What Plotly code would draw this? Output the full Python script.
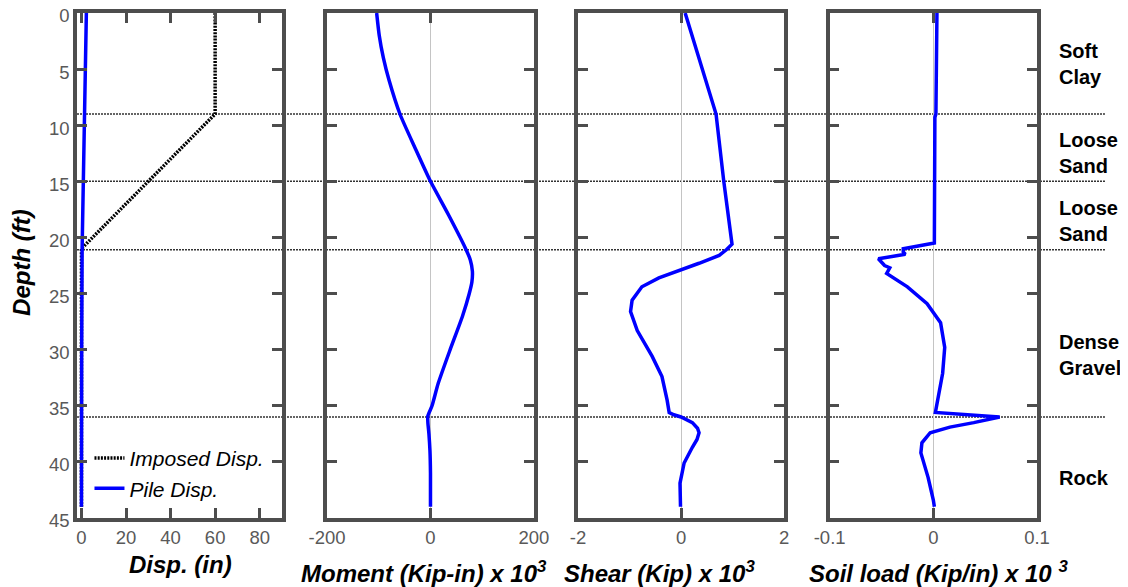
import plotly.graph_objects as go

# ---------------- data ----------------
depth_imposed = [0, 9, 21, 44]
imposed_disp = [60, 60, 0, 0]

depth_pile = [0, 9, 15, 21, 30, 44]
pile_disp = [2.2, 1.5, 0.9, 0.3, 0.1, 0.0]

moment_depth = [0, 2, 4, 6, 9, 12, 15, 18, 21, 22, 23, 24, 25, 27, 30, 33, 35, 35.9, 36.5, 37.5, 39, 41, 44]
moment = [-104, -99, -91, -80, -59, -30, 0, 35, 68, 77, 81, 80, 75, 62, 38, 15, 3, -5, -5, -3, -1, 0, 0]

shear_depth = [0, 9, 15, 20.6, 21.1, 21.6, 22.3, 22.9, 23.6, 24.4, 25.6, 26.6, 28.3, 30.6, 32.4, 34.5,
               35.6, 35.8, 36.0, 36.5, 37.0, 37.4, 38.0, 38.7, 40.1, 41.9, 43.4, 44]
shear = [0.08, 0.68, 0.83, 0.99, 0.88, 0.74, 0.35, 0.0, -0.43, -0.76, -0.95, -0.98, -0.85, -0.56, -0.37, -0.27,
         -0.23, -0.14, 0.0, 0.22, 0.32, 0.35, 0.31, 0.22, 0.06, -0.02, -0.02, -0.01]

soil_depth = [0, 9, 9.3, 20.5, 21.0, 21.3, 21.5, 21.9, 22.5, 22.7, 23.2, 24.4, 25.9, 27.6, 29.8, 32.1,
              35.6, 36.0, 36.5, 36.9, 37.4, 38.3, 39.2, 41.4, 43.4, 44]
soil_load = [0.0035, 0.0025, 0.0015, 0.001, -0.029, -0.029, -0.027, -0.053, -0.047, -0.042, -0.045, -0.025,
             -0.006, 0.007, 0.011, 0.009, 0.002, 0.064, 0.039, 0.016, -0.003, -0.011, -0.012, -0.005, 0.0, 0.001]

layer_boundaries = [9, 15, 21.1, 36]
layer_names = ["Soft<br>Clay", "Loose<br>Sand", "Loose<br>Sand", "Dense<br>Gravel", "Rock"]
layer_label_depths = [4.5, 12.5, 18.5, 30.5, 41.4]

depth_ticks = [0, 5, 10, 15, 20, 25, 30, 35, 40, 45]
disp_ticks = [0, 20, 40, 60, 80]
moment_ticks = [-200, 0, 200]
shear_ticks = [-2, 0, 2]
soil_ticks = [-0.1, 0, 0.1]
soil_ticktext = ["-0.1", "0", "0.1"]

# ---------------- figure ----------------
BLUE = "#0000ff"
FRAME = "#4d4d4d"
FONT = "Liberation Sans, Arial, sans-serif"

fig = go.Figure()
fig.add_trace(go.Scatter(x=imposed_disp, y=depth_imposed, mode="lines", name="Imposed Disp.",
                         line=dict(color="black", width=3.5, dash="2px,1.2px"), xaxis="x", yaxis="y"))
fig.add_trace(go.Scatter(x=pile_disp, y=depth_pile, mode="lines", name="Pile Disp.",
                         line=dict(color=BLUE, width=3.5), xaxis="x", yaxis="y"))
fig.add_trace(go.Scatter(x=moment, y=moment_depth, mode="lines", showlegend=False,
                         line=dict(color=BLUE, width=3.5, shape="spline", smoothing=0.6), xaxis="x2", yaxis="y2"))
fig.add_trace(go.Scatter(x=shear, y=shear_depth, mode="lines", showlegend=False,
                         line=dict(color=BLUE, width=3.5), xaxis="x3", yaxis="y3"))
fig.add_trace(go.Scatter(x=soil_load, y=soil_depth, mode="lines", showlegend=False,
                         line=dict(color=BLUE, width=3.5), xaxis="x4", yaxis="y4"))

axis_style = dict(showline=True, linewidth=3.5, linecolor=FRAME, mirror="ticks", ticks="inside",
                  ticklen=10, tickwidth=3, tickcolor=FRAME, showgrid=False, automargin=False,
                  ticklabeloverflow="allow",
                  tickfont=dict(family=FONT, size=18.5, color="#595959"))

domains = [[0, 0.2135], [0.2604, 0.476], [0.5219, 0.7365], [0.784, 1.0]]
xranges = [[-2, 90], [-200, 200], [-2, 2], [-0.1, 0.1]]
xticks = [disp_ticks, moment_ticks, shear_ticks, soil_ticks]
xticktexts = [[str(v) for v in disp_ticks], [str(v) for v in moment_ticks],
              [str(v) for v in shear_ticks], soil_ticktext]

layout = dict(width=1128, height=587, margin=dict(l=69, r=99, t=5, b=77, autoexpand=False),
              paper_bgcolor="white", plot_bgcolor="rgba(0,0,0,0)", showlegend=True,
              font=dict(family=FONT))
for i in range(4):
    sfx = "" if i == 0 else str(i + 1)
    layout["xaxis" + sfx] = dict(axis_style, domain=domains[i], range=xranges[i], tickvals=xticks[i],
                                 ticktext=xticktexts[i], anchor="y" + sfx,
                                 zeroline=(i > 0), zerolinecolor="#c4c4c4", zerolinewidth=1)
    layout["yaxis" + sfx] = dict(axis_style, range=[45, 0], tickvals=depth_ticks, anchor="x" + sfx,
                                 showticklabels=(i == 0), zeroline=False, ticklabelshift=-3)

layout["legend"] = dict(x=0.013, y=0.018, xanchor="left", yanchor="bottom", bgcolor="rgba(0,0,0,0)",
                        font=dict(family=FONT, size=21, color="black", style="italic"),
                        itemwidth=30, tracegroupgap=0)

shapes = []
for d in layer_boundaries:
    shapes.append(dict(type="line", xref="paper", yref="y", x0=0, x1=1.0708, y0=d, y1=d, layer="below",
                       line=dict(color="#333333", width=1.5, dash="2px,1px")))
layout["shapes"] = shapes

ann = []
for name, d in zip(layer_names, layer_label_depths):
    ann.append(dict(text="<b>" + name + "</b>", xref="paper", yref="y", x=1.0208, y=d, xanchor="left",
                    yanchor="middle", align="left", showarrow=False,
                    font=dict(family=FONT, size=20, color="black")))
titles = [("Disp. (in)", 0.1083, -0.0911),
          ("Moment (Kip-in) x 10<sup>3</sup>", 0.361, -0.107),
          ("Shear (Kip) x 10<sup>3</sup>", 0.607, -0.107),
          ("Soil load (Kip/in) x 10 <sup>3</sup>", 0.897, -0.107)]
for t, x, y in titles:
    ann.append(dict(text="<b><i>" + t + "</i></b>", xref="paper", yref="paper", x=x, y=y,
                    xanchor="center", yanchor="middle", showarrow=False,
                    font=dict(family=FONT, size=24, color="black")))
ann.append(dict(text="<b><i>Depth (ft)</i></b>", xref="paper", yref="paper", x=-0.0573, y=0.507,
                textangle=-90, xanchor="center", yanchor="middle", showarrow=False,
                font=dict(family=FONT, size=24, color="black")))
layout["annotations"] = ann

fig.update_layout(**layout)
fig.write_html("out.html")
